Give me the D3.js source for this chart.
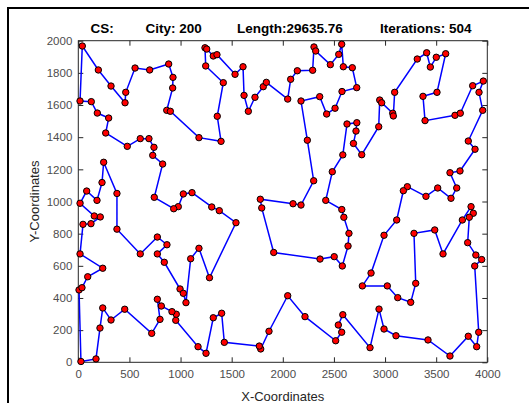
<!DOCTYPE html>
<meta charset="utf-8">
<script src="https://d3js.org/d3.v7.min.js"></script>
<style>
  body { margin: 0; background: #fff; }
  svg text { font-family: "Liberation Sans", Arial, sans-serif; }
</style>
<body>
<div id="chart"></div>
<script>
// tour order of the 200-city solution
var cityX = [39, 196, 320, 457, 464, 555, 698, 884, 926, 923, 865, 900, 1180, 1396, 1359, 1418,
  1246, 1239, 1256, 1320, 1356, 1533, 1611, 1621, 1663, 1728, 1809, 1839, 2048, 2077, 2142, 2292,
  2305, 2322, 2465, 2547, 2576, 2592, 2680, 2723, 2579, 2511, 2429, 2361, 2178, 2240, 2302, 2178,
  2100, 1780, 1794, 1911, 2364, 2503, 2582, 2638, 2647, 2597, 2577, 2420, 2484, 2587, 2628, 2724,
  2716, 2691, 2772, 2938, 2948, 2967, 3075, 3081, 3094, 3315, 3407, 3443, 3501, 3593, 3508, 3371,
  3391, 3684, 3736, 3857, 3961, 3919, 3955, 3814, 3880, 3733, 3635, 3701, 3645, 3515, 3400, 3218,
  3179, 3114, 2990, 2863, 2778, 3022, 3124, 3251, 3300, 3283, 3486, 3567, 3756, 3841, 3863, 3824,
  3808, 3888, 3945, 3877, 3916, 3896, 3814, 3635, 3420, 3107, 2990, 2941, 2853, 2587, 2543, 2576,
  2517, 2217, 2048, 1865, 1784, 1770, 1428, 1402, 1320, 1249, 1171, 953, 958, 916, 812, 773,
  799, 718, 454, 320, 239, 212, 173, 26, 7, 36, 92, 239, 17, 46, 124, 215,
  156, 17, 82, 183, 232, 248, 378, 378, 606, 773, 867, 773, 841, 995, 1027, 1053,
  1099, 1180, 1283, 1542, 1379, 1305, 1112, 1027, 978, 933, 743, 825, 728, 740, 691, 606,
  479, 268, 297, 186, 127, 17];
var cityY = [1967, 1818, 1718, 1614, 1679, 1830, 1818, 1855, 1772, 1706, 1567, 1561, 1397, 1374, 1530, 1739,
  1843, 1956, 1948, 1905, 1913, 1791, 1838, 1660, 1561, 1648, 1714, 1741, 1637, 1760, 1813, 1816,
  1961, 1936, 1851, 1915, 1978, 1838, 1832, 1708, 1684, 1580, 1544, 1652, 1625, 1381, 1129, 978,
  986, 1014, 960, 683, 642, 657, 599, 723, 802, 902, 950, 1007, 1185, 1290, 1482, 1490,
  1438, 1361, 1291, 1465, 1631, 1614, 1549, 1532, 1679, 1886, 1925, 1836, 1897, 1919, 1679, 1654,
  1503, 1536, 1549, 1720, 1749, 1679, 1567, 1376, 1325, 1190, 1179, 1084, 1020, 1084, 1032, 1092,
  1067, 885, 790, 555, 475, 475, 402, 373, 491, 802, 823, 674, 885, 968, 927, 902,
  744, 667, 639, 599, 187, 97, 162, 39, 139, 165, 207, 331, 91, 296, 232, 187,
  134, 284, 414, 193, 83, 101, 124, 305, 277, 56, 97, 261, 299, 315, 350, 392,
  267, 180, 330, 263, 338, 213, 21, 5, 450, 464, 532, 585, 674, 858, 862, 904,
  910, 989, 1065, 1007, 1118, 1244, 1050, 828, 674, 779, 731, 674, 622, 456, 429, 371,
  644, 709, 526, 868, 943, 966, 1055, 1047, 968, 955, 1026, 1233, 1287, 1337, 1391, 1391,
  1343, 1426, 1519, 1550, 1621, 1625];

var xTicks = [0, 500, 1000, 1500, 2000, 2500, 3000, 3500, 4000];
var yTicks = [0, 200, 400, 600, 800, 1000, 1200, 1400, 1600, 1800, 2000];
var titleParts = ["CS:", "City: 200", "Length:29635.76", "Iterations: 504"];

var W = 529, H = 403;
var plotL = 78.3, plotR = 487.3, plotT = 40.7, plotB = 362.3;

var svg = d3.select("#chart").append("svg")
  .attr("width", W).attr("height", H);

// figure frame
svg.append("rect")
  .attr("x", 8).attr("y", 8)
  .attr("width", W).attr("height", H)
  .attr("fill", "#fff")
  .attr("stroke", "#000").attr("stroke-width", 2);

var x = d3.scaleLinear().domain([0, 4000]).range([plotL, plotR]);
var y = d3.scaleLinear().domain([0, 2000]).range([plotB, plotT]);

var axisColor = "#262626";
var fmt = d3.format("d");

// axes, ticks pointing inwards like matlab
var gx = svg.append("g").attr("transform", "translate(0," + plotB + ")")
  .call(d3.axisBottom(x).tickValues(xTicks).tickFormat(fmt).tickSizeInner(-5).tickSizeOuter(0).tickPadding(8));
var gxt = svg.append("g").attr("transform", "translate(0," + plotT + ")")
  .call(d3.axisTop(x).tickValues(xTicks).tickSizeInner(-5).tickSizeOuter(0).tickFormat(""));
var gy = svg.append("g").attr("transform", "translate(" + plotL + ",0)")
  .call(d3.axisLeft(y).tickValues(yTicks).tickFormat(fmt).tickSizeInner(-5).tickSizeOuter(0).tickPadding(6));
var gyr = svg.append("g").attr("transform", "translate(" + plotR + ",0)")
  .call(d3.axisRight(y).tickValues(yTicks).tickSizeInner(-5).tickSizeOuter(0).tickFormat(""));

[gx, gxt, gy, gyr].forEach(function(g) {
  g.select(".domain").remove();
  g.selectAll("line").attr("stroke", axisColor);
  g.selectAll("text").attr("fill", "#4d4d4d").style("font-size", "11.5px");
});

svg.append("rect")
  .attr("x", plotL).attr("y", plotT)
  .attr("width", plotR - plotL).attr("height", plotB - plotT)
  .attr("fill", "none").attr("stroke", axisColor).attr("stroke-width", 1);

// tour
var tour = d3.range(cityX.length).map(function(i) { return [cityX[i], cityY[i]]; });
tour.push(tour[0]);

svg.append("path")
  .datum(tour)
  .attr("d", d3.line().x(function(d) { return x(d[0]); }).y(function(d) { return y(d[1]); }))
  .attr("fill", "none")
  .attr("stroke", "#0000ff")
  .attr("stroke-width", 1.5);

svg.selectAll("circle.city")
  .data(tour.slice(0, -1))
  .enter()
  .append("circle")
    .attr("class", "city")
    .attr("cx", function(d) { return x(d[0]); })
    .attr("cy", function(d) { return y(d[1]); })
    .attr("r", 3.2)
    .attr("fill", "#ff0000")
    .attr("stroke", "#000")
    .attr("stroke-width", 1);

// title
var titleX = [90.5, 145.5, 237, 380];
svg.selectAll("text.title")
  .data(titleParts)
  .enter()
  .append("text")
    .attr("class", "title")
    .attr("x", function(d, i) { return titleX[i]; })
    .attr("y", 32.5)
    .style("font-size", "13.5px")
    .style("font-weight", "bold")
    .attr("fill", "#000")
    .text(function(d) { return d; });

svg.append("text")
  .attr("x", (plotL + plotR) / 2).attr("y", 401)
  .attr("text-anchor", "middle")
  .style("font-size", "13px")
  .attr("fill", "#262626")
  .text("X-Coordinates");

svg.append("text")
  .attr("transform", "translate(39," + ((plotT + plotB) / 2) + ") rotate(-90)")
  .attr("text-anchor", "middle")
  .style("font-size", "13px")
  .attr("fill", "#262626")
  .text("Y-Coordinates");
</script>
</body>
